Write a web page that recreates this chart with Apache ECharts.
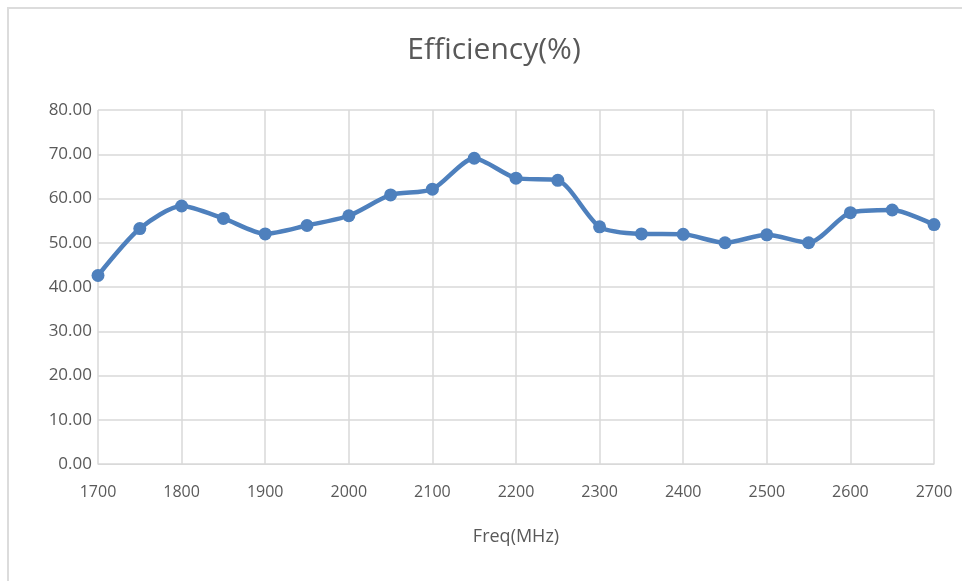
<!DOCTYPE html>
<html>
<head>
<meta charset="utf-8">
<script src="https://cdn.jsdelivr.net/npm/echarts@6/dist/echarts.min.js"></script>
<style>
  html, body { margin: 0; padding: 0; background: #fff; }
  #frame { position: absolute; left: 7px; top: 7px; right: 0; bottom: 0; border-top: 2px solid #dcdcdc; border-left: 2px solid #dcdcdc; }
  #chart { position: absolute; left: 0; top: 0; width: 962px; height: 581px; }
</style>
</head>
<body>
<div id="frame"></div>
<div id="chart"></div>
<script>
const freqs = [1700, 1750, 1800, 1850, 1900, 1950, 2000, 2050, 2100, 2150, 2200, 2250, 2300, 2350, 2400, 2450, 2500, 2550, 2600, 2650, 2700];
const efficiency = [42.6, 53.2, 58.3, 55.5, 52.0, 53.9, 56.1, 60.8, 62.1, 69.1, 64.6, 64.1, 53.6, 52.0, 51.9, 50.0, 51.8, 50.0, 56.8, 57.4, 54.1];
const titleText = 'Efficiency(%)';
const xName = 'Freq(MHz)';

const chart = echarts.init(document.getElementById('chart'), null, { renderer: 'canvas' });
const font = 'Open Sans';
chart.setOption({
  animation: false,
  backgroundColor: 'transparent',
  title: {
    text: titleText,
    left: 489, top: 30, textAlign: 'center',
    textStyle: { fontFamily: font, fontSize: 30, fontWeight: 'normal', color: '#595959' }
  },
  grid: { left: 98, right: 28, top: 110, bottom: 117 },
  xAxis: {
    type: 'value', min: 1700, max: 2700, interval: 100,
    name: xName, nameLocation: 'middle', nameGap: 64,
    nameTextStyle: { fontFamily: font, fontSize: 18, color: '#595959' },
    axisLine: { show: true, lineStyle: { color: '#d9d9d9', width: 1 } },
    axisTick: { show: false },
    axisLabel: { fontFamily: font, fontSize: 16, color: '#595959', margin: 20,
      formatter: v => String(v) },
    splitLine: { show: true, lineStyle: { color: '#d9d9d9', width: 1.5 } }
  },
  yAxis: {
    type: 'value', min: 0, max: 80, interval: 10,
    axisLine: { show: false },
    axisTick: { show: false },
    axisLabel: { fontFamily: font, fontSize: 17, color: '#595959', margin: 6,
      formatter: v => v.toFixed(2) },
    splitLine: { show: true, lineStyle: { color: '#d9d9d9', width: 1.5 } }
  },
  series: [{
    type: 'line',
    data: freqs.map((f, i) => [f, efficiency[i]]),
    smooth: 0.25,
    symbol: 'circle', symbolSize: 13,
    lineStyle: { color: '#4e80bd', width: 4.5 },
    itemStyle: { color: '#4e80bd' }
  }]
});
</script>
</body>
</html>
